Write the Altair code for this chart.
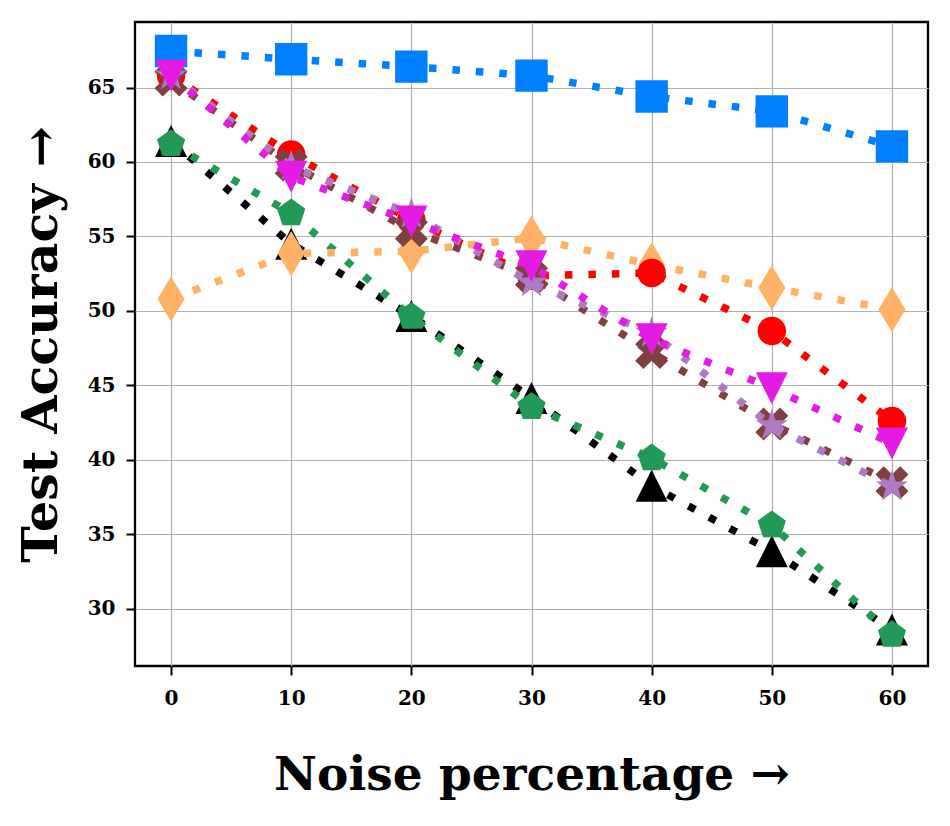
import altair as alt
import pandas as pd
import math

# ---- data ----
noise = [0, 10, 20, 30, 40, 50, 60]
blue = [67.45, 66.9, 66.4, 65.8, 64.4, 63.4, 61.05]
black = [61.4, 54.5, 49.65, 44.15, 38.25, 33.85, 28.6]
green = [61.2, 56.55, 49.6, 43.55, 40.1, 35.6, 28.25]
orange = [50.8, 53.85, 54.0, 54.9, 53.1, 51.55, 50.1]
red = [65.8, 60.5, 56.1, 52.35, 52.55, 48.65, 42.6]
brown = [65.5, 59.8, 55.4, 52.3, 47.2, 42.4, 38.45]
purple = [65.8, 59.7, 56.5, 51.9, 48.5, 42.3, 38.2]
magenta = [65.8, 59.0, 56.0, 53.0, 48.1, 44.8, 41.1]
x_ticks = [0, 10, 20, 30, 40, 50, 60]
y_ticks = [30, 35, 40, 45, 50, 55, 60, 65]

# ---- marker shapes (styles) ----
def poly(pts):
    return "M" + "L".join(f"{x:.4f},{y:.4f}" for x, y in pts) + "Z"

tri_up = "M0,-1L1,1L-1,1Z"
tri_down = "M0,1L1,-1L-1,-1Z"
pentagon = poly([(math.cos(math.radians(-90 + 72 * k)), math.sin(math.radians(-90 + 72 * k))) for k in range(5)])
star = poly([((1 if k % 2 == 0 else 0.382) * math.cos(math.radians(-90 + 36 * k)),
              (1 if k % 2 == 0 else 0.382) * math.sin(math.radians(-90 + 36 * k))) for k in range(10)])
thin_diamond = "M0,-1L0.6,0L0,1L-0.6,0Z"
x_filled = "M0.5,-1L1,-0.5L0.5,0L1,0.5L0.5,1L0,0.5L-0.5,1L-1,0.5L-0.5,0L-1,-0.5L-0.5,-1L0,-0.5Z"

series = [
    ("blue", blue, "#0080FF", "square", 1050),
    ("black", black, "#000000", tri_up, 1024),
    ("green", green, "#229954", pentagon, 880),
    ("orange", orange, "#FFB266", thin_diamond, 2025),
    ("red", red, "#FF0000", "circle", 810),
    ("brown", brown, "#804040", x_filled, 1089),
    ("purple", purple, "#AF7AC5", star, 1130),
    ("magenta", magenta, "#E31BE3", tri_down, 1024),
]

rows = []
for name, vals, *_ in series:
    for n, v in zip(noise, vals):
        rows.append({"noise": n, "acc": v, "series": name})
df = pd.DataFrame(rows)

font = "DejaVu Serif"
xscale = alt.Scale(domain=[-3, 63], nice=False, zero=False)
yscale = alt.Scale(domain=[26.15, 69.4], nice=False, zero=False)
xaxis = alt.Axis(values=x_ticks, title="Noise percentage →", labelFont=font, labelFontWeight="bold",
                 labelFontSize=20, labelColor="black", labelPadding=13, tickColor="black", tickWidth=2,
                 tickSize=9, domain=False, grid=True, gridColor="#b0b0b0", gridWidth=1.2,
                 titleFont=font, titleFontWeight="bold", titleFontSize=47, titleColor="black",
                 titlePadding=44, labelFlush=False)
yaxis = alt.Axis(values=y_ticks, title="Test Accuracy →", labelFont=font, labelFontWeight="bold",
                 labelFontSize=20, labelColor="black", labelPadding=11, tickColor="black", tickWidth=2,
                 tickSize=9, domain=False, grid=True, gridColor="#b0b0b0", gridWidth=1.2,
                 titleFont=font, titleFontWeight="bold", titleFontSize=49, titleColor="black",
                 titlePadding=21, labelFlush=False)

base = alt.Chart(df)
layers = []
for i, (name, vals, color, shape, size) in enumerate(series):
    sub = base.transform_filter(alt.datum.series == name)
    if i == 0:
        x = alt.X("noise:Q", scale=xscale, axis=xaxis)
        y = alt.Y("acc:Q", scale=yscale, axis=yaxis)
    else:
        x = alt.X("noise:Q", scale=xscale)
        y = alt.Y("acc:Q", scale=yscale)
    line = sub.mark_line(color=color, strokeWidth=7.5, strokeDash=[7.5, 16], strokeCap="butt").encode(
        x=x, y=y, order="noise:Q")
    pts = sub.mark_point(filled=True, shape=shape, size=size, color=color, opacity=1, strokeWidth=0).encode(
        x=x, y=y)
    layers += [line, pts]

chart = alt.layer(*layers).properties(
    width=793, height=644,
    autosize=alt.AutoSizeParams(type="none"),
    padding={"left": 127, "top": 14, "right": 14, "bottom": 150},
    background="white",
).configure_view(stroke="black", strokeWidth=2.3)

chart.save("out.html", embed_options={"renderer": "svg", "actions": False})
